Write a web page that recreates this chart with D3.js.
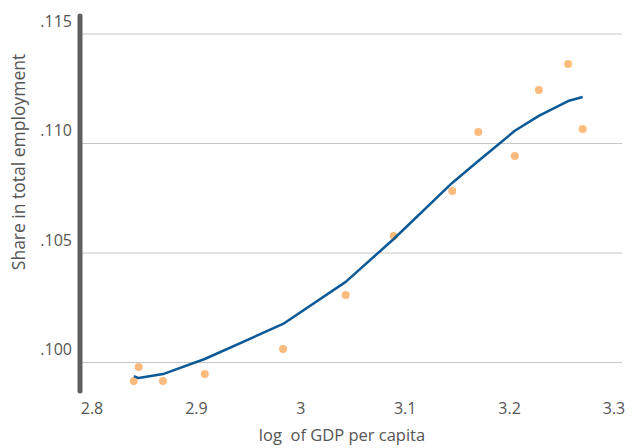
<!DOCTYPE html>
<html lang="en">
<head>
<meta charset="UTF-8">
<title>Share in total employment</title>
<style>
  body { margin: 0; background: #fff; }
  svg { display: block; font-family: "Open Sans", "Noto Sans", sans-serif; }
</style>
</head>
<body>
<svg width="631" height="448"></svg>
<script src="https://cdn.jsdelivr.net/npm/d3@7"></script>
<script>
    // scatter points: log GDP per capita vs share
    const pointX = [2.840, 2.8447, 2.868, 2.908, 2.983, 3.043, 3.089, 3.145, 3.170, 3.205, 3.228, 3.256, 3.270];
    const pointY = [.09916, .09979, .09916, .09947, .10062, .10308, .10578, .10783, .11053, .10943, .11244, .11363, .11066];

    // fitted line
    const fitX = [2.840, 2.8447, 2.868, 2.908, 2.983, 3.043, 3.089, 3.145, 3.170, 3.205, 3.228, 3.256, 3.270];
    const fitY = [.09938, .09929, .09947, .10016, .10176, .10368, .10564, .10820, .10920, .11058, .11126, .11194, .11212];

    const xTicks = [2.8, 2.9, 3.0, 3.1, 3.2, 3.3];
    const yTicks = [.100, .105, .110, .115];

    const svg = d3.select("svg");

    const x = d3.scaleLinear().domain([2.8, 3.3]).range([92, 614]);
    const y = d3.scaleLinear().domain([.100, .115]).range([362.5, 34]);

    // gridlines
    svg.append("g")
        .selectAll("line")
        .data(yTicks)
        .enter().append("line")
        .attr("x1", 82).attr("x2", 622)
        .attr("y1", d => y(d)).attr("y2", d => y(d))
        .attr("stroke", "#c6c6c6")
        .attr("stroke-width", 1.2);

    // y tick labels
    svg.append("g")
        .attr("text-anchor", "end")
        .attr("fill", "#555")
        .style("font-size", "16px")
        .selectAll("text")
        .data(yTicks)
        .enter().append("text")
        .attr("x", 72)
        .attr("y", d => y(d) - 13)
        .attr("dy", "0.35em")
        .text(d => d3.format(".3f")(d).replace(/^0/, ""));

    // x tick labels
    svg.append("g")
        .attr("text-anchor", "middle")
        .attr("fill", "#555")
        .style("font-size", "16px")
        .selectAll("text")
        .data(xTicks)
        .enter().append("text")
        .attr("x", d => x(d))
        .attr("y", 414)
        .text(d => d === 3 ? "3" : d3.format(".1f")(d));

    // y axis bar
    svg.append("line")
        .attr("x1", 80).attr("x2", 80)
        .attr("y1", 16).attr("y2", 391)
        .attr("stroke", "#5f5f5f")
        .attr("stroke-width", 5)
        .attr("stroke-linecap", "round");

    // axis titles
    svg.append("text")
        .attr("x", 342).attr("y", 441)
        .attr("text-anchor", "middle")
        .attr("fill", "#555")
        .style("font-size", "16.5px")
        .style("white-space", "pre")
        .text("log  of GDP per capita");

    svg.append("text")
        .attr("transform", "translate(25,162) rotate(-90)")
        .attr("text-anchor", "middle")
        .attr("fill", "#555")
        .style("font-size", "17.5px")
        .text("Share in total employment");

    // points
    svg.append("g")
        .attr("fill", "#fdbb7e")
        .selectAll("circle")
        .data(d3.range(pointX.length))
        .enter().append("circle")
        .attr("cx", i => x(pointX[i]))
        .attr("cy", i => y(pointY[i]))
        .attr("r", 4);

    // fit line
    const line = d3.line()
        .x(i => x(fitX[i]))
        .y(i => y(fitY[i]));

    svg.append("path")
        .datum(d3.range(fitX.length))
        .attr("fill", "none")
        .attr("stroke", "#0b5a97")
        .attr("stroke-width", 2.5)
        .attr("stroke-linejoin", "round")
        .attr("d", line);
</script>
</body>
</html>
